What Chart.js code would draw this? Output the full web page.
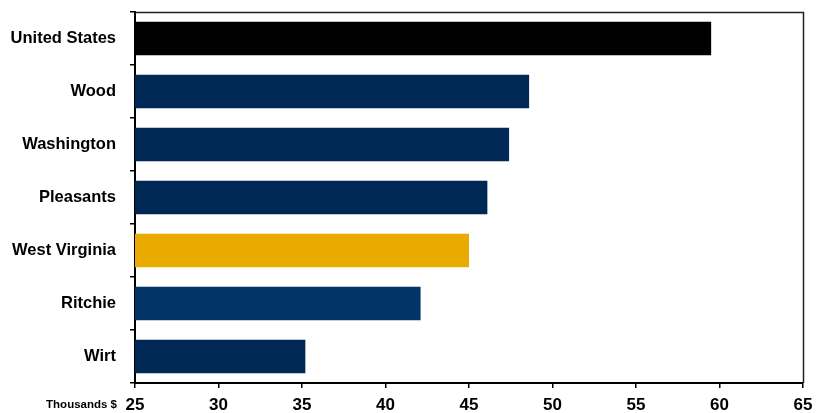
<!DOCTYPE html>
<html>
<head>
<meta charset="utf-8">
<script src="https://cdn.jsdelivr.net/npm/chart.js@4.4.1/dist/chart.umd.min.js"></script>
<style>
html,body{margin:0;padding:0;background:#fff;}
#wrap{width:825px;height:413px;position:relative;}
</style>
</head>
<body>
<div id="wrap"><canvas id="c" width="825" height="413"></canvas></div>
<script>
const categories = ["United States","Wood","Washington","Pleasants","West Virginia","Ritchie","Wirt"];
const incomeValues = [59.5, 48.6, 47.4, 46.1, 45.0, 42.1, 35.2];
const barColors = ["#000000","#002855","#002855","#002855","#EAAB00","#003466","#002855"];
const xTickMin = 25, xTickMax = 65, xTickStep = 5;
const axisUnitLabel = "Thousands $";

const frame = {
  id: 'frame',
  afterDraw(chart) {
    const {ctx, chartArea:a} = chart;
    ctx.save();
    ctx.strokeStyle = '#222';
    ctx.lineWidth = 1.5;
    ctx.beginPath();
    ctx.moveTo(a.left, a.top + 0.5);
    ctx.lineTo(a.right + 0.5, a.top + 0.5);
    ctx.lineTo(a.right + 0.5, a.bottom);
    ctx.stroke();
    ctx.fillStyle = '#000';
    ctx.font = 'bold 11.5px "Liberation Sans", Arial, sans-serif';
    ctx.textAlign = 'right';
    ctx.textBaseline = 'middle';
    ctx.fillText(axisUnitLabel, 117, 405);
    ctx.restore();
  }
};

new Chart(document.getElementById('c'), {
  type: 'bar',
  data: {
    labels: categories,
    datasets: [{
      data: incomeValues,
      backgroundColor: barColors,
      borderWidth: 0,
      barPercentage: 0.63,
      categoryPercentage: 1.0
    }]
  },
  options: {
    indexAxis: 'y',
    responsive: false,
    animation: false,
    devicePixelRatio: 1,
    layout: { padding: { left: 0, right: 22, top: 12, bottom: 0 } },
    plugins: { legend: { display: false }, tooltip: { enabled: false } },
    scales: {
      x: {
        min: xTickMin, max: xTickMax,
        ticks: { stepSize: xTickStep, color: '#000', padding: 7,
          font: { family: '"Liberation Sans", Arial, sans-serif', size: 17, weight: 'bold' } },
        grid: { drawOnChartArea: false, drawTicks: true, tickLength: 5, color: '#000', lineWidth: 1.5 },
        border: { display: true, color: '#000', width: 2 },
        afterFit(s) { s.height = 30; s.paddingLeft = 0; s.paddingRight = 0; }
      },
      y: {
        ticks: { color: '#000', padding: 14,
          font: { family: '"Liberation Sans", Arial, sans-serif', size: 16.5, weight: 'bold' } },
        grid: { drawOnChartArea: false, drawTicks: true, tickLength: 5, color: '#000', lineWidth: 1.5, offset: true },
        border: { display: true, color: '#000', width: 2 },
        afterFit(s) { s.width = 135; s.paddingTop = 0; s.paddingBottom = 0; }
      }
    }
  },
  plugins: [frame]
});
</script>
</body>
</html>
